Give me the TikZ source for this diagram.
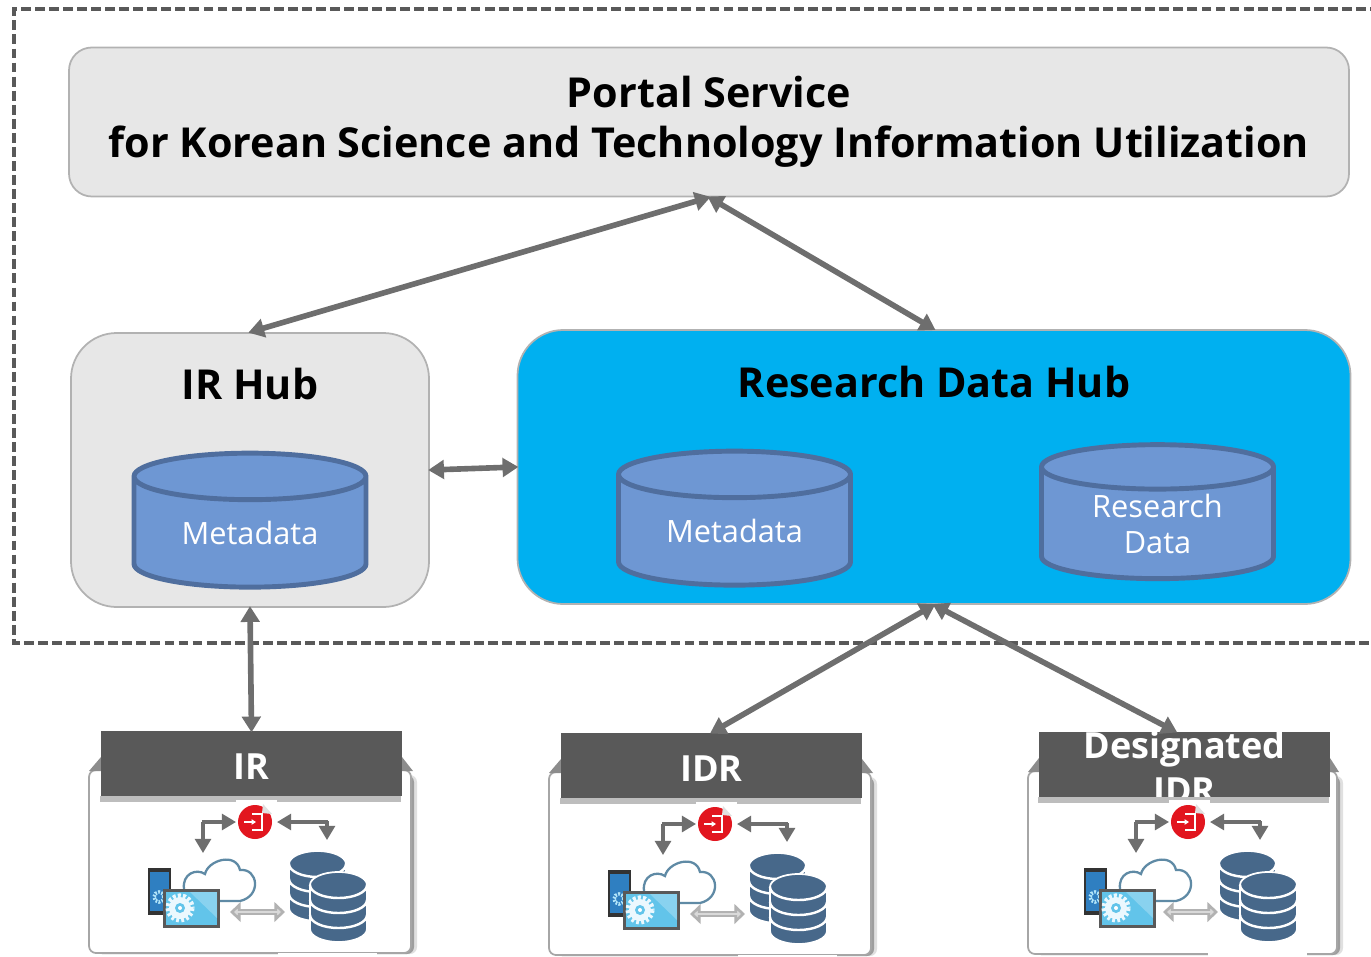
\documentclass[tikz,border=0pt]{standalone}
\usepackage{fontspec}
\setmainfont{Open Sans}
\usetikzlibrary{arrows.meta,shapes.geometric}

\definecolor{hubgrey}{HTML}{E7E7E7}
\definecolor{hubline}{HTML}{B2B2B2}
\definecolor{hubblue}{HTML}{00B0F0}
\definecolor{cylfill}{HTML}{6E97D3}
\definecolor{cylline}{HTML}{4F6E9E}
\definecolor{linkgrey}{HTML}{6E6E6E}
\definecolor{headgrey}{HTML}{595959}
\definecolor{stripgrey}{HTML}{BDBDBD}
\definecolor{dbblue}{HTML}{47688A}
\definecolor{cloudline}{HTML}{5F8AA5}
\definecolor{screenblue}{HTML}{62C4EA}
\definecolor{stickerred}{HTML}{E2161F}
\definecolor{phoneblue}{HTML}{2F7FC1}

\begin{document}
\begin{tikzpicture}[
	x=0.02cm,
	y=-0.02cm,
	hubbox/.style={
		rectangle,
		draw=hubline,
		line width=1pt,
		fill=hubgrey,
		font=\bfseries\fontsize{23.5}{28.3}\selectfont,
		align=center
	},
	hubtitle/.style={
		font=\bfseries\fontsize{23.5}{28}\selectfont
	},
	dbcyl/.style={
		cylinder,
		shape border rotate=90,
		shape aspect=0.34,
		draw=cylline,
		line width=2.8pt,
		fill=cylfill,
		text=white,
		align=center,
		inner sep=0pt,
		minimum width=232*0.02cm,
		minimum height=134*0.02cm,
		font=\fontsize{17.5}{21}\selectfont
	},
	biarrow/.style={
		{Triangle[width=10.5pt,length=9pt]}-{Triangle[width=10.5pt,length=9pt]},
		draw=linkgrey,
		line width=3.2pt,
		shorten <=-1pt,
		shorten >=-1pt
	},
	iconarrow/.style={
		-{Triangle[width=9pt,length=8pt]},
		draw=linkgrey,
		line width=1.8pt
	},
	repohead/.style={
		rectangle,
		fill=headgrey,
		inner sep=0pt,
		minimum height=65*0.02cm
	},
	repotext/.style={
		text=white,
		inner sep=0pt,
		align=center,
		yshift=-1.7pt,
		font=\bfseries\fontsize{20.5}{25.5}\selectfont
	}
]

\useasboundingbox (0,0) rectangle (1371,956);
\def\pxu{0.02cm}

\draw[headgrey, line width=2.2pt, dash pattern=on 5.6pt off 2.4pt] (1380,9) -- (14,9) -- (14,643) -- (1380,643);

% hubs
\node[hubbox, rounded corners=13pt, minimum width=1280*\pxu, minimum height=149*\pxu] (portal) at (709,122)
	{Portal Service\\for Korean Science and Technology Information Utilization};
\node[hubbox, rounded corners=26pt, minimum width=358*\pxu, minimum height=274*\pxu] (irhub) at (250,470) {};
\node[hubbox, rounded corners=26pt, fill=hubblue, minimum width=833*\pxu, minimum height=274*\pxu] (rdhub) at (934,467) {};
\node[hubtitle] (irtitle) at (250,384) {IR Hub};
\node[hubtitle] (rdtitle) at (934,382) {Research Data Hub};

\node[dbcyl] (irmeta) at (250,533) {Metadata};
\node[dbcyl] (rdmeta) at (734.5,531) {Metadata};
\node[dbcyl] (rddata) at (1157.5,524) {Research\\Data};

% one small database stack, #1 = centre x, #2 = top y
\def\dbstack#1#2{
	\fill[dbblue, draw=white, line width=1pt] (#1-28.5,#2+13) arc [start angle=180, end angle=360, x radius=28.5, y radius=13] -- (#1+28.5,#2+57) arc [start angle=0, end angle=180, x radius=28.5, y radius=13] -- cycle;
	\foreach \band in {13,28,43} {
		\draw[white, line width=1.4pt] (#1-28.5,#2+\band) arc [start angle=180, end angle=0, x radius=28.5, y radius=13];
	}
}

% sticker and its arrows, drawn at the IR place
\def\repolinks{
	\fill[white] (236,800) rectangle (277,841);
	\fill[stickerred] (255,822) circle (17);
	\fill[black!12] (263,804) -- (272,814) -- (262,813) -- cycle;
	\draw[white, line width=0.7pt] (252,814) -- (262,814) -- (262,830) -- (252,830);
	\draw[white, line width=0.9pt, -{Triangle[width=3pt,length=2.5pt]}] (244,822) -- (256,822);
	\draw[iconarrow] (202,822) -- (236,822);
	\draw[iconarrow] (203,822) -- (203,853);
	\draw[iconarrow] (328,822) -- (277,822);
	\draw[iconarrow] (327,821) -- (327,840);
	% grey link
	\draw[{Triangle[width=11pt,length=6pt,fill=black!15]}-{Triangle[width=11pt,length=6pt,fill=black!15]}, draw=black!30, line width=3pt] (230,912) -- (285,912);
	\draw[black!15, line width=1.6pt, shorten <=2pt, shorten >=2pt] (232,912) -- (283,912);
}

% cloud, phone and tablet, drawn at the IR place
\def\repodevice{
	\draw[cloudline, line width=1.3pt, fill=white] (184,889) .. controls (182,874) and (196,868) .. (205,874) .. controls (208,860) and (236,852) .. (240,870) .. controls (258,868) and (262,896) .. (240,901) -- (200,901);
	\fill[black!80] (148,868) rectangle (171,915);
	\fill[phoneblue] (150,872) rectangle (169,911);
	\draw[cyan!30, line width=2pt, dash pattern=on 1pt off 0.8pt] (159,897) circle (5);
	\fill[black!65] (163,889) rectangle (220,928);
	\fill[screenblue] (166,892) rectangle (217,925);
	\fill[white, opacity=0.25] (190,892) -- (217,892) -- (217,918) -- cycle;
	\fill[white!92!cyan] (180,908) circle (11);
	\draw[white!92!cyan, line width=3pt, dash pattern=on 1.6pt off 1.2pt] (180,908) circle (12);
	\fill[screenblue] (180,908) circle (5);
	\fill[white] (180,908) circle (2);
}

\foreach \hx/\hy/\hw/\pl/\pr in {
	101/731/301/89/411,
	561/733/301/549/871,
	1039/732/291/1028/1337
} {
	\fill[black!12, rounded corners=4pt] (\pl+6,\hy+44) rectangle (\pr+6,\hy+223);
	\fill[black!38, rounded corners=4pt] (\pl+6,\hy+44) rectangle (\pr+3,\hy+223);
	\filldraw[fill=white, draw=black!35, line width=1pt, rounded corners=4pt] (\pl,\hy+39) rectangle (\pr,\hy+222);
	\fill[black!45] (\hx,\hy+26) -- (\pl,\hy+40) -- (\hx,\hy+40) -- cycle;
	\fill[black!45] (\hx+\hw,\hy+26) -- (\pr+2,\hy+40) -- (\hx+\hw,\hy+40) -- cycle;
}

% headers
\node[repohead, minimum width=301*\pxu] (repoir) at (251.5,763.5) {};
\node[repohead, minimum width=301*\pxu] (repoidr) at (711.5,765.5) {};
\node[repohead, minimum width=291*\pxu] (repodes) at (1184.5,764.5) {};
\node[repotext] (irname) at (repoir) {IR};
\node[repotext] (idrname) at (repoidr) {IDR};
\node[repotext] (desname) at (repodes) {Designated\\IDR};

\foreach \sx/\sy/\sw/\ox/\oy/\devx/\dbx in {
	100/796/301/0/0/0/0,
	560/798/301/460/2/460/460,
	1038/797/291/933/0/936/930
} {
	\fill[stripgrey] (\sx,\sy) rectangle (\sx+\sw,\sy+6);
	\begin{scope}[shift={(\ox,\oy)}]
		\repolinks
	\end{scope}
	\begin{scope}[shift={(\devx,\oy)}]
		\repodevice
	\end{scope}
	\begin{scope}[shift={(\dbx,\oy)}]
		\dbstack{317.5}{851}
		\dbstack{338.5}{872}
		\fill[white] (278,953) rectangle (377,958);
	\end{scope}
}

% links
\draw[biarrow] (portal.south) -- (irhub.north);
\draw[biarrow] (portal.south) -- (rdhub.north);
\draw[biarrow] (irhub.east) -- (rdhub.west);
\draw[biarrow] (irhub.south) -- (repoir.north);
\draw[biarrow] (rdhub.south) -- (repoidr.north);
\draw[biarrow] (rdhub.south) -- ([xshift=-5pt]repodes.north);

\end{tikzpicture}
\end{document}
